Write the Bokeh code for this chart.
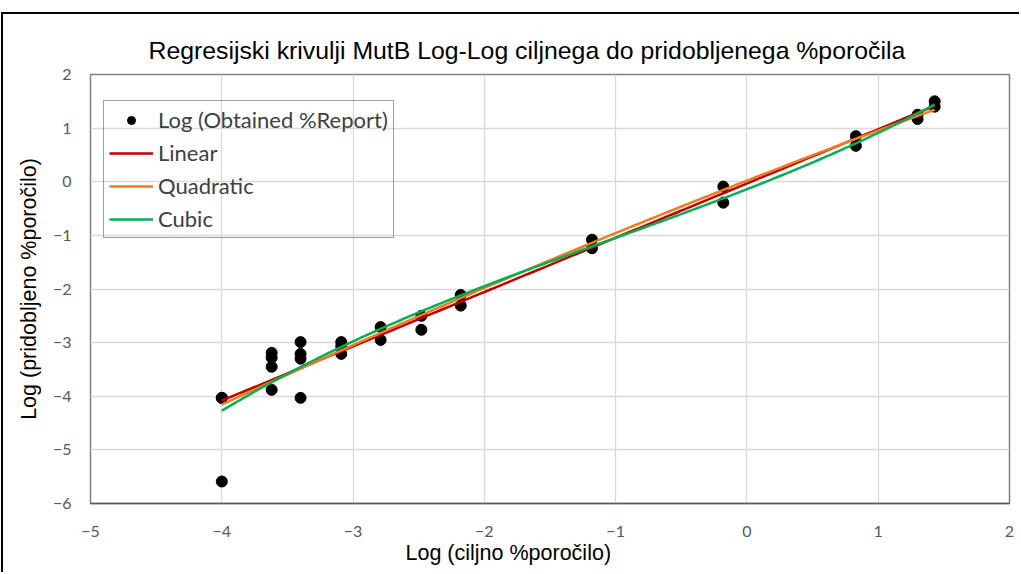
import numpy as np
from bokeh.plotting import figure
from bokeh.models import Range1d, FixedTicker, Legend, LegendItem, Title
from bokeh.embed import file_html
from bokeh.resources import INLINE

# Measured points: log10 of target %report vs log10 of obtained %report
log_target = [-4.00, -4.00, -4.00,
              -3.62, -3.62, -3.62, -3.62,
              -3.40, -3.40, -3.40, -3.40,
              -3.09, -3.09, -3.09,
              -2.79, -2.79,
              -2.48, -2.48,
              -2.18, -2.18,
              -1.18, -1.18,
              -0.18, -0.18,
              0.83, 0.83,
              1.30, 1.30,
              1.43, 1.43]
log_obtained = [-4.03, -4.03, -5.59,
                -3.19, -3.28, -3.45, -3.88,
                -2.99, -3.21, -3.30, -4.03,
                -2.99, -3.07, -3.21,
                -2.71, -2.95,
                -2.50, -2.76,
                -2.11, -2.31,
                -1.08, -1.24,
                -0.09, -0.39,
                0.85, 0.67,
                1.25, 1.17,
                1.50, 1.40]

x_ticks = [-5, -4, -3, -2, -1, 0, 1, 2]
y_ticks = [-6, -5, -4, -3, -2, -1, 0, 1, 2]

fit_names = ["Linear", "Quadratic", "Cubic"]
fit_degrees = [1, 2, 3]
fit_colors = ["#c00000", "#f07c1e", "#00b050"]

p = figure(width=1018, height=560, output_backend="svg", toolbar_location=None,
           x_range=Range1d(-5, 2), y_range=Range1d(-6, 2),
           min_border_left=87, min_border_right=12, min_border_top=60, min_border_bottom=71)
p.styles = {"border-top": "2px solid black", "border-left": "2px solid black",
            "margin-top": "12px", "margin-left": "1px"}

p.outline_line_color = "#7f7f7f"
p.outline_line_width = 1.5
p.background_fill_color = "white"
p.border_fill_color = "white"

for ax in (p.xaxis[0], p.yaxis[0]):
    ax.major_tick_line_color = None
    ax.minor_tick_line_color = None
    ax.major_label_text_font = "Lato"
    ax.major_label_text_font_size = "16px"
    ax.major_label_text_color = "#595959"
p.xaxis.ticker = FixedTicker(ticks=x_ticks)
p.yaxis.ticker = FixedTicker(ticks=y_ticks)
p.xaxis.axis_line_color = "#595959"
p.xaxis.axis_line_width = 1.5
p.yaxis.axis_line_color = None
p.xaxis.major_label_standoff = 16
p.yaxis.major_label_standoff = 13
p.yaxis.axis_label = "Log (pridobljeno %poročilo)"
p.yaxis.axis_label_text_font = "Liberation Sans"
p.yaxis.axis_label_text_font_style = "normal"
p.yaxis.axis_label_text_font_size = "21.5px"
p.yaxis.axis_label_text_color = "black"
p.yaxis.axis_label_standoff = 9

p.grid.grid_line_color = "#d9d9d9"
p.grid.grid_line_width = 1.3
p.xgrid.ticker = FixedTicker(ticks=x_ticks)
p.ygrid.ticker = FixedTicker(ticks=y_ticks)

dots = p.scatter(log_target, log_obtained, size=11, color="black")

xs = np.linspace(min(log_target), max(log_target), 200)
items = [LegendItem(label="Log (Obtained %Report)", renderers=[dots])]
for name, deg, col in zip(fit_names, fit_degrees, fit_colors):
    coef = np.polyfit(log_target, log_obtained, deg)
    r = p.line(xs, np.polyval(coef, xs), line_color=col, line_width=2.5)
    items.append(LegendItem(label=name, renderers=[r]))

legend = Legend(items=items, location=(13, 265),
                label_text_font="Lato", label_text_font_size="22px",
                label_text_color="#404040",
                glyph_width=44, glyph_height=20, label_height=20,
                label_standoff=5, spacing=6, padding=5, margin=0,
                border_line_color="#404040", border_line_width=1.5,
                background_fill_alpha=0)
p.add_layout(legend)

p.add_layout(Title(text="Regresijski krivulji MutB Log-Log ciljnega do pridobljenega %poročila",
                   align="left", offset=58, standoff=22,
                   text_font="Liberation Sans", text_font_size="24.8px",
                   text_font_style="normal", text_color="black"), "above")
p.add_layout(Title(text="Log (ciljno %poročilo)", align="left", offset=315, standoff=2,
                   vertical_align="top",
                   text_font="Liberation Sans", text_font_size="21.5px",
                   text_font_style="normal", text_color="black"), "below")

open("out.html", "w").write(file_html(p, INLINE))
